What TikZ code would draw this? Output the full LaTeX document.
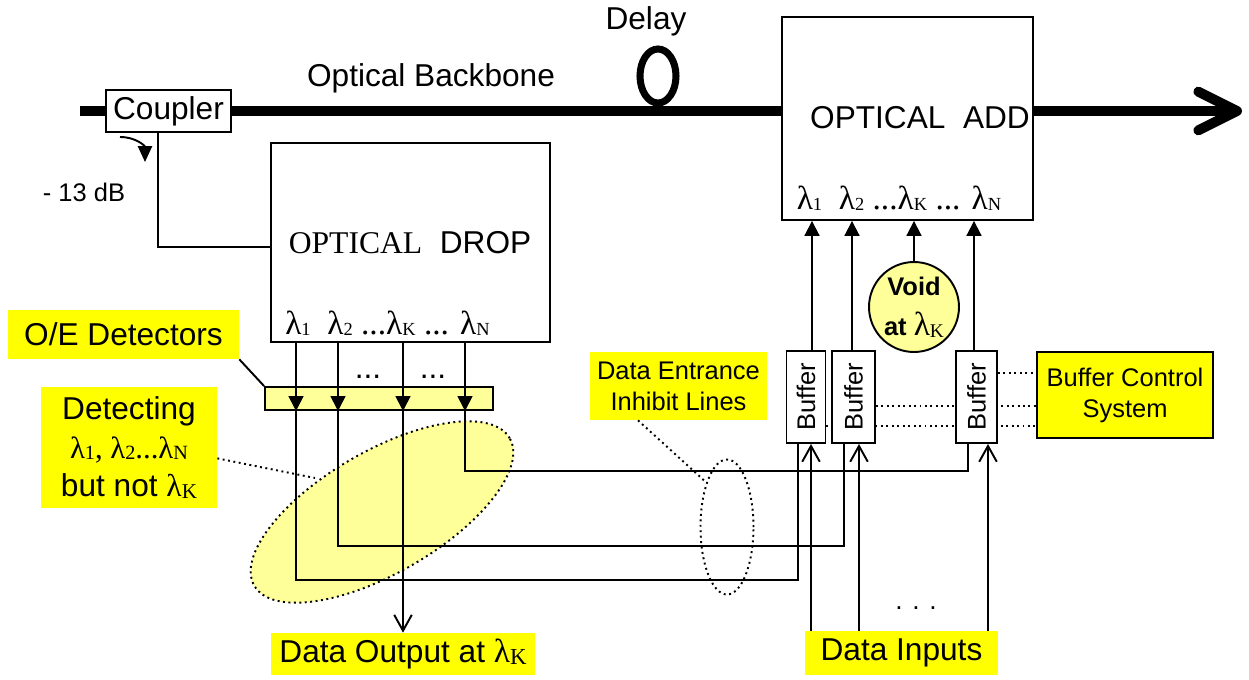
\documentclass[tikz,border=0pt]{standalone}
\usepackage{fontspec}
\setmainfont{Liberation Sans}
\newfontfamily\tnr{Liberation Serif}
\usepackage{tikz}
\usetikzlibrary{arrows.meta}
\usetikzlibrary{shapes.geometric}
\usetikzlibrary{backgrounds}
\definecolor{labyellow}{HTML}{FFFF00}
\definecolor{paleyellow}{HTML}{FFFF99}
\tikzset{
wire/.style = {line width=1.1pt},
blk/.style = {draw, line width=1.1pt, fill=white, inner sep=0pt},
hilite/.style = {fill=labyellow, inner sep=0pt, align=center},
tri/.style = {wire, -{Triangle[length=8.5pt, width=8.5pt]}},
barb/.style = {wire, -{Straight Barb[length=9pt, width=10pt]}},
leader/.style = {line width=1.1pt, dotted},
backbone/.style = {line width=5.7pt},
bigtxt/.style = {font=\fontsize{18}{21}\selectfont},
smalltxt/.style = {font=\fontsize{14.5}{17.6}\selectfont}
}
\newcommand{\sub}[2][10.5]{\raisebox{-0.12ex}{\fontsize{#1}{#1}\selectfont #2}}
\newcommand{\lamrow}{\tnr\fontsize{19}{21}\selectfont λ\sub{1}\ \ λ\sub{2} ...λ\sub{K} ... λ\sub{N}}
\newcommand{\bufnode}[3]{\node[blk, minimum width=#3, minimum height=1.84cm, smalltxt] (#1) at (#2) {\rotatebox{90}{Buffer}};}

\begin{document}
\begin{tikzpicture}[x=0.02cm, y=-0.02cm]
    \useasboundingbox (0,0) rectangle (1249,680);

    % zones first, wires go over them
    \node[ellipse, draw, leader, fill=paleyellow, minimum width=5.9cm, minimum height=2.44cm, rotate=30] (detzone) at (382,512) {};
    \node[ellipse, draw, leader, minimum width=1.06cm, minimum height=2.7cm] (bundle) at (727,527) {};

    \node[blk, minimum width=2.5cm, minimum height=0.84cm, bigtxt] (coupler) at (168.5,111) {Coupler};
    \node[blk, minimum width=5.02cm, minimum height=4.06cm] (add) at (907.5,118.5) {};
    \node[blk, minimum width=5.58cm, minimum height=3.98cm] (drop) at (410.5,242.5) {};
    \node[bigtxt] (addtxt) at (920,118) {OPTICAL\ \ ADD};
    \node[bigtxt] (droptxt) at (410,243) {{\tnr OPTICAL}\ \ DROP};
    \node[anchor=base] (addlam) at (899,209) {\lamrow};
    \node[anchor=base] (droplam) at (387.5,334) {\lamrow};

    \node[bigtxt] (bbtxt) at (431,78) {Optical Backbone};
    \node[bigtxt] (delaytxt) at (646,21) {Delay};
    \node[smalltxt] (dbtxt) at (84,192) {- 13 dB};

    \node[blk, fill=paleyellow, minimum width=4.56cm, minimum height=0.46cm] (det) at (379,398.5) {};
    \node[bigtxt] (dots1) at (368,377) {...};
    \node[bigtxt] (dots2) at (433,377) {...};

    \bufnode{buf1}{806,397}{0.78cm};
    \bufnode{buf2}{853.5,397}{0.86cm};
    \bufnode{buf3}{976.5,397}{0.82cm};
    \node[blk, fill=labyellow, minimum width=3.52cm, minimum height=1.72cm, smalltxt, align=center] (bcs) at (1125,395) {Buffer Control\\System};
    \node[circle, draw, wire, fill=paleyellow, minimum size=1.8cm, inner sep=0pt, align=center, font=\bfseries\fontsize{14.5}{23}\selectfont] (void) at (914,307) {Void\\at {\tnr\mdseries\fontsize{19}{23}\selectfont λ\sub[11]{K}}};

    \node[hilite, minimum width=4.62cm, minimum height=0.98cm, bigtxt] (oelab) at (123.5,334.5) {O/E Detectors};
    \node[hilite, minimum width=3.52cm, minimum height=2.42cm, font=\fontsize{18}{22}\selectfont] (detlab) at (129,447.5) {Detecting\\{\tnr\fontsize{17.5}{22}\selectfont λ\sub[11.5]{1}, λ\sub[11.5]{2}...λ\sub[11.5]{N}}\\but not {\tnr\fontsize{18}{22}\selectfont λ\sub[12]{K}}};
    \node[hilite, minimum width=3.54cm, minimum height=1.36cm, smalltxt] (inhlab) at (678.5,386) {Data Entrance\\Inhibit Lines};
    \node[hilite, minimum width=5.28cm, minimum height=0.84cm, bigtxt] (outlab) at (403,654) {Data Output at {\tnr\fontsize{19}{21}\selectfont λ\sub[13]{K}}};
    \node[hilite, minimum width=3.86cm, minimum height=0.88cm, bigtxt] (inlab) at (901.5,653) {Data Inputs};
    \node[font=\fontsize{15}{15}\selectfont] (dots3) at (916,608) {. . .};

    % backbone and delay
    \coordinate (bbin) at (80,111);
    \coordinate (bbout) at (1242,111);
    \draw[backbone] (bbin) -- (coupler.west);
    \draw[backbone] (coupler.east) -- (coupler.east -| add.west);
    \draw[backbone, -{Straight Barb[length=22pt, width=22pt, round]}] (bbin -| add.east) -- (bbout);
    \draw[line width=4pt] (658,76) ellipse [x radius=18, y radius=27];

    % coupler tap
    \coordinate (tap) at (158,247);
    \coordinate (cv1) at (120,137);
    \coordinate (cv2) at (145,162);
    \draw[wire] (coupler.south -| tap) -- (tap) -- (tap -| drop.west);
    \draw[wire, -{Triangle[length=9pt, width=8pt]}] (cv1) .. controls (136,137) and (145,146) .. (cv2);

    % drop side
    \coordinate (c1) at (296,0);
    \coordinate (c2) at (338,0);
    \coordinate (cK) at (403,0);
    \coordinate (cN) at (465,0);
    \foreach \c in {c1,c2,cK,cN}
        \draw[tri] (drop.south -| \c) -- (det.south -| \c);

    \coordinate (r1) at (798,580);
    \coordinate (r2) at (844,546);
    \coordinate (rN) at (968,471);
    \draw[wire] (det.south -| c1) |- (r1) -- (r1 |- buf1.south);
    \draw[wire] (det.south -| c2) |- (r2) -- (r2 |- buf2.south);
    \draw[wire] (det.south -| cN) |- (rN) -- (rN |- buf3.south);
    \draw[barb] (det.south -| cK) -- (outlab.north -| cK);

    % add side
    \coordinate (u1) at (812,0);
    \coordinate (u2) at (852,0);
    \coordinate (u3) at (974,0);
    \draw[tri] (buf1.north -| u1) -- (add.south -| u1);
    \draw[tri] (buf2.north -| u2) -- (add.south -| u2);
    \draw[tri] (buf3.north -| u3) -- (add.south -| u3);
    \draw[tri] (void.north) -- (add.south -| void.north);

    \coordinate (i1) at (811,0);
    \coordinate (i2) at (859,0);
    \coordinate (i3) at (988,0);
    \draw[barb] (inlab.north -| i1) -- (buf1.south -| i1);
    \draw[barb] (inlab.north -| i2) -- (buf2.south -| i2);
    \draw[barb] (inlab.north -| i3) -- (buf3.south -| i3);

    % buffer control
    \coordinate (k1) at (0,426);
    \coordinate (k2) at (0,406);
    \coordinate (k3) at (0,373);
    \begin{pgfonlayer}{background}
    \draw[leader] (buf1.east |- k1) -- (bcs.west |- k1);
    \draw[leader] (buf2.east |- k2) -- (bcs.west |- k2);
    \draw[leader] (buf3.east |- k3) -- (bcs.west |- k3);
    \end{pgfonlayer}

    % pointers
    \coordinate (dzpt) at (315,478);
    \draw[wire] (oelab.south east) -- (det.north west);
    \draw[leader] (detlab.-7) -- (dzpt);
    \draw[leader] ([xshift=-0.81cm]inhlab.south) -- (bundle.115);
\end{tikzpicture}
\end{document}
